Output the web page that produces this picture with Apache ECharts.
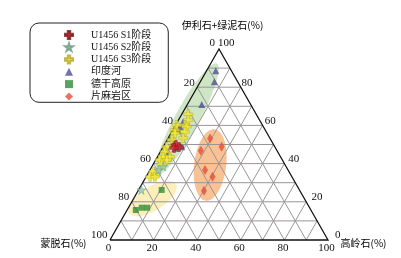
<!DOCTYPE html>
<html><head><meta charset="utf-8">
<script src="https://cdn.jsdelivr.net/npm/echarts@6/dist/echarts.min.js"></script>
<style>html,body{margin:0;padding:0;background:#fff}#c{width:401px;height:258px}</style>
</head><body><div id="c"></div>
<script>
// Each point: [蒙脱石 S, 伊利石+绿泥石 I, 高岭石 K] in %
const seriesNames = ['U1456 S1阶段','U1456 S2阶段','U1456 S3阶段','印度河','德干高原','片麻岩区'];
const s1Stage = [[44.9,49.7,5.4],[44.0,48.7,7.3],[46.5,48.2,5.3]];
const s2Stage = [[56.4,38.4,5.2],[59.5,36.6,3.9],[72.5,26.2,1.3]];
const s3Stage = [[31.2,65.8,3.0],[32.7,62.8,4.5],[35.5,60.2,4.3],[41.4,57.6,1.0],[39.3,60.2,0.5],
  [35.2,59.3,5.5],[37.3,56.7,6.0],[42.2,55.9,1.9],[45.5,52.4,2.1],[39.7,53.4,6.9],
  [49.6,48.8,1.6],[51.7,46.2,2.1],[53.8,43.6,2.6],[50.7,43.6,5.7],[53.0,41.9,5.1],
  [56.2,41.9,1.9],[56.5,39.6,3.9],[62.4,34.0,3.6],[62.1,35.8,2.1],[65.1,33.1,1.8],[62.9,33.1,4.0]];
const indusRiver = [[7.2,88.6,4.2],[10.7,82.9,6.4],[22.4,71.0,6.6],[35.5,61.9,2.6],[38.2,59.3,2.5],
  [39.9,57.6,2.5],[45.9,53.2,0.9],[45.2,51.5,3.3],[46.2,48.0,5.8],[50.2,46.2,3.6],[42.7,48.8,8.5]];
const deccanTraps = [[63.2,26.2,10.6],[80.3,15.7,4.0],[77.0,16.9,6.1],[74.5,16.9,8.6]];
const gneissArea = [[27.5,53.2,19.3],[24.4,48.8,26.8],[35.0,46.7,18.3],[38.1,36.6,25.3],[36.4,33.1,30.5],[44.0,25.8,30.2]];
// shaded zone centres (same [S, I, K] order): green, orange, yellow
const zoneCenters = [[33.0,63.4,3.6],[34.4,39.3,26.3],[69.7,21.7,8.6]];
const tickValues = [0,20,40,60,80,100];
const gridSteps = [10,20,30,40,50,60,70,80,90];
const axisTitles = ['伊利石+绿泥石(%)','蒙脱石(%)','高岭石(%)'];

// ternary -> cartesian (u along base, v height), both 0..1
const toXY = p => [p[2]/100 + p[1]/200, p[1]/100];

const chart = echarts.init(document.getElementById('c'), null, {renderer:'canvas'});
const serifFont = '"Liberation Serif","Times New Roman","Noto Sans CJK SC",serif';
const zoneStyle = [
  {a:63, b:12, ang:61.5, fill:'#cfe6c6'},
  {a:36, b:16, ang:83, fill:'#f9c294'},
  {a:27.5, b:12, ang:31.7, fill:'#fcf0ba'}
];
function ellipseItem(params, api){
  const i = params.dataIndex;
  const z = zoneStyle[i];
  const c = api.coord([api.value(0), api.value(1)]);
  const phi = z.ang*Math.PI/180, pts=[];
  for(let k=0;k<72;k++){
    const t = k/72*2*Math.PI;
    const ex = z.a*Math.cos(t), ey = z.b*Math.sin(t);
    pts.push([c[0] + ex*Math.cos(phi) - ey*Math.sin(phi), c[1] - (ex*Math.sin(phi) + ey*Math.cos(phi))]);
  }
  return {type:'polygon', shape:{points:pts}, style:{fill:z.fill}};
}
function gridItem(params, api){
  const t = api.value(0)/100;
  const segs = [
    [[t/2, t],[1-t/2, t]],
    [[t,0],[t+(1-t)/2, 1-t]],
    [[1-t,0],[(1-t)/2, 1-t]]
  ];
  return {type:'group', children: segs.map(s=>{
    const p1=api.coord(s[0]), p2=api.coord(s[1]);
    return {type:'line', shape:{x1:p1[0],y1:p1[1],x2:p2[0],y2:p2[1]}, style:{stroke:'#9a9597', lineWidth:1}};
  })};
}
function frameItem(params, api){
  const a=api.coord([0,0]), b=api.coord([1,0]), c=api.coord([0.5,1]);
  return {type:'polyline', shape:{points:[a,b,c,a]}, style:{stroke:'#111', lineWidth:1.3, fill:null}};
}
function labelItem(side){
  return function(params, api){
    const v = api.value(0), f = v/100;
    let p, x, y, align;
    if(side==='left'){
      p = api.coord([(1-f)/2, 1-f]); x = p[0]-2.5; y = p[1]-4.5; align='right';
      if(v===0){ x = p[0]-4; y = p[1]-6; }
    } else if(side==='right'){
      p = api.coord([1-f/2, f]); x = p[0] - 1 + 8*(1-f); y = p[1]-4.5; align='left';
      if(v===100){ y = p[1]-6; }
    } else {
      p = api.coord([f, 0]); x = p[0]-1.5; y = p[1]+8.5; align='center';
    }
    return {type:'text', x:x, y:y, style:{text:String(v), fill:'#111', font:'11px '+serifFont, align:align, verticalAlign:'middle', textAlign:align, textVerticalAlign:'middle'}};
  };
}
const tickData = tickValues.map(v=>[v,0]);
const plusPath = 'path://M35,0H65V35H100V65H65V100H35V65H0V35H35Z';
const starPath = 'path://M50,0L61,35L98,35L68,57L79,91L50,70L21,91L32,57L2,35L39,35Z';
const titleStyle = {font:'10px "Noto Sans CJK SC"', fill:'#000', align:'center', verticalAlign:'middle', textAlign:'center', textVerticalAlign:'middle'};

const option = {
  animation:false,
  grid:{left:110, top:49, width:218, height:191},
  xAxis:{type:'value', min:0, max:1, show:false},
  yAxis:{type:'value', min:0, max:1, show:false},
  legend:{
    orient:'vertical', left:30, top:23, padding:[6,17,0,34],
    itemWidth:8, itemHeight:8, itemGap:0.5,
    borderColor:'#222', borderWidth:1, borderRadius:9,
    textStyle:{fontFamily:serifFont, fontSize:10, color:'#111', lineHeight:11.8, padding:[0,0,0,13]},
    data: seriesNames
  },
  graphic:[
    {type:'text', x:222.5, y:25, style:Object.assign({text:axisTitles[0]}, titleStyle)},
    {type:'text', x:63.5, y:243, style:Object.assign({text:axisTitles[1]}, titleStyle)},
    {type:'text', x:363.5, y:243, style:Object.assign({text:axisTitles[2]}, titleStyle)}
  ],
  series:[
    {type:'custom', silent:true, z:1, renderItem:ellipseItem, data: zoneCenters.map(toXY)},
    {type:'custom', silent:true, z:2, renderItem:gridItem, data: gridSteps.map(v=>[v,0])},
    {type:'custom', silent:true, z:3, renderItem:frameItem, data:[[0,0]]},
    {type:'custom', silent:true, z:3, renderItem:labelItem('left'), data:tickData},
    {type:'custom', silent:true, z:3, renderItem:labelItem('right'), data:tickData},
    {type:'custom', silent:true, z:3, renderItem:labelItem('bottom'), data:tickData},
    {name:seriesNames[3], type:'scatter', z:5, symbol:'triangle', symbolSize:7, itemStyle:{color:'#4d4f98'}, data:indusRiver.map(toXY)},
    {name:seriesNames[4], type:'scatter', z:5, symbol:'rect', symbolSize:6, itemStyle:{color:'#2f8c3a'}, data:deccanTraps.map(toXY)},
    {name:seriesNames[5], type:'scatter', z:5, symbol:'diamond', symbolSize:[6,10], itemStyle:{color:'#e2503a'}, data:gneissArea.map(toXY)},
    {name:seriesNames[2], type:'scatter', z:6, symbol:plusPath, symbolSize:9, itemStyle:{color:'#f3ea2c', borderColor:'#b4a52a', borderWidth:0.6}, data:s3Stage.map(toXY)},
    {name:seriesNames[1], type:'scatter', z:6, symbol:starPath, symbolSize:9, itemStyle:{color:'#93c7a6', borderColor:'#6a9a86', borderWidth:0.6}, data:s2Stage.map(toXY)},
    {name:seriesNames[0], type:'scatter', z:7, symbol:plusPath, symbolSize:9, itemStyle:{color:'#d2222c', borderColor:'#7a1212', borderWidth:0.6}, data:s1Stage.map(toXY)}
  ]
};
chart.setOption(option);
</script></body></html>
